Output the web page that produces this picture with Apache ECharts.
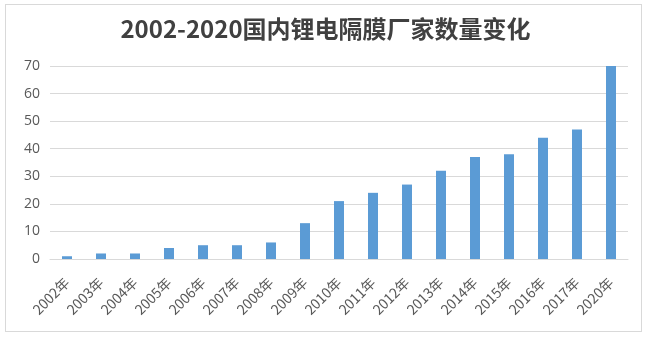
<!DOCTYPE html>
<html>
<head>
<meta charset="utf-8">
<script src="https://cdn.jsdelivr.net/npm/echarts@6/dist/echarts.min.js"></script>
<style>
  html, body { margin: 0; padding: 0; background: #fff; }
  #frame { position: absolute; left: 5px; top: 4px; width: 637px; height: 328px; border: 1px solid #d9d9d9; box-sizing: border-box; }
  #chart { position: absolute; left: 0; top: 0; width: 651px; height: 338px; }
</style>
</head>
<body>
<div id="frame"></div>
<div id="chart"></div>
<script>
// Years and number of domestic lithium battery separator makers
const years = ['2002年','2003年','2004年','2005年','2006年','2007年','2008年','2009年','2010年','2011年','2012年','2013年','2014年','2015年','2016年','2017年','2020年'];
const makerCounts = [1, 2, 2, 4, 5, 5, 6, 13, 21, 24, 27, 32, 37, 38, 44, 47, 70];
const titleText = '2002-2020国内锂电隔膜厂家数量变化';

const chart = echarts.init(document.getElementById('chart'), null, { renderer: 'canvas' });
chart.setOption({
  backgroundColor: 'transparent',
  animation: false,
  title: {
    text: titleText,
    left: 'center',
    top: 12,
    textStyle: {
      fontFamily: '"Noto Sans CJK SC", sans-serif',
      fontSize: 24,
      fontWeight: 'bold',
      color: '#404040'
    }
  },
  grid: { left: 50, right: 23, top: 66, bottom: 79, containLabel: false },
  xAxis: {
    type: 'category',
    data: years,
    axisLine: { lineStyle: { color: '#d9d9d9' } },
    axisTick: { show: false },
    axisLabel: {
      rotate: 45,
      interval: 0,
      margin: 21,
      color: '#595959',
      fontSize: 14,
      fontFamily: '"Noto Sans CJK SC", sans-serif'
    }
  },
  yAxis: {
    type: 'value',
    min: 0,
    max: 70,
    interval: 10,
    axisLine: { show: false },
    axisTick: { show: false },
    axisLabel: { color: '#595959', fontSize: 14, margin: 10, fontFamily: '"Open Sans", sans-serif' },
    splitLine: { lineStyle: { color: '#d9d9d9' } }
  },
  series: [{
    type: 'bar',
    data: makerCounts,
    barWidth: 10,
    itemStyle: { color: '#5b9bd5' }
  }]
});
</script>
</body>
</html>
